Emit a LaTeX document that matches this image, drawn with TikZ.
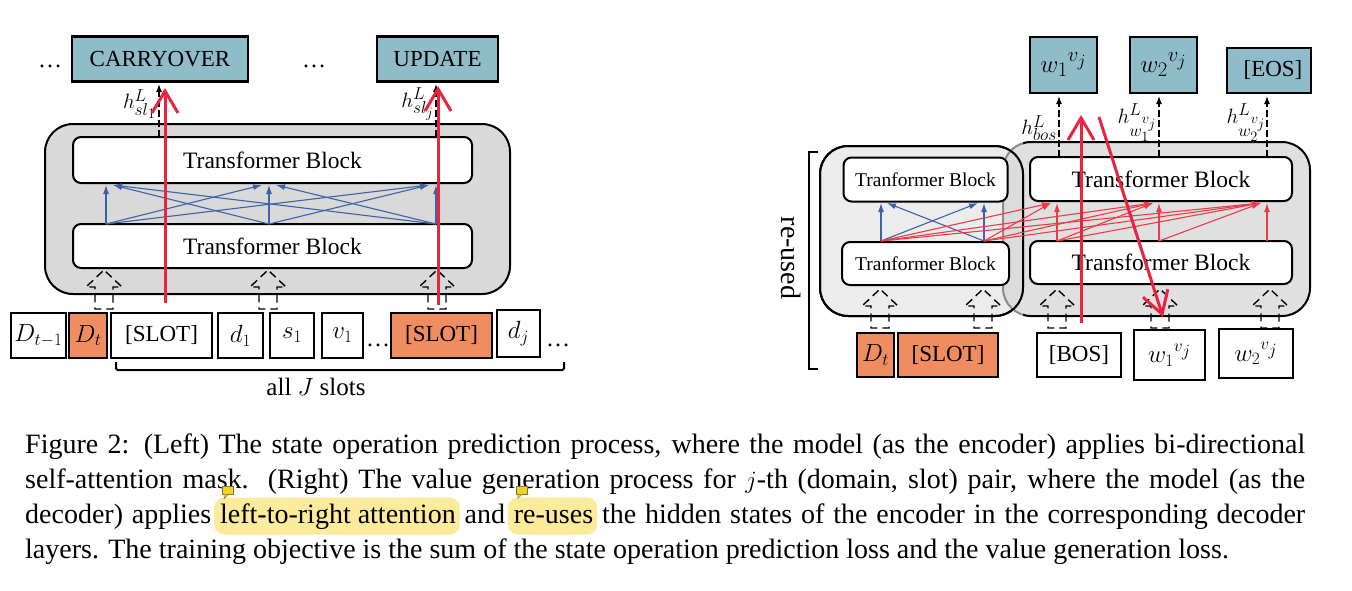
\documentclass[tikz,border=0pt]{standalone}
\usepackage{fontspec}
\setmainfont{Liberation Serif}
\usetikzlibrary{arrows.meta,calc}
\DeclareMathSizes{22}{22}{17}{14}
\DeclareMathSizes{23}{23}{17.5}{14.5}
\DeclareMathSizes{25}{25}{19}{16}
\DeclareMathSizes{26}{26}{20}{17}
\DeclareMathSizes{28}{28}{21}{17}
\definecolor{tealbox}{HTML}{8FBCC9}
\definecolor{orangebox}{HTML}{EF8D61}
\definecolor{grayA}{HTML}{D9D9D9}
\definecolor{grayB}{HTML}{ECECEC}
\definecolor{blueA}{HTML}{3F62A6}
\definecolor{redA}{HTML}{E8253F}
\definecolor{redB}{HTML}{EE3B47}
\definecolor{hlyellow}{HTML}{FDEB9C}
\definecolor{iconyellow}{HTML}{F3D21E}
\newcommand\fs[1]{\fontsize{#1}{#1}\selectfont}
\newcommand\capfont{\fontsize{28}{35}\selectfont}
\newcommand\hlword[1]{\tikz[baseline=(hw.base)]{%
  \node[inner sep=0pt,outer sep=0pt] (hw) {\strut\phantom{#1}};%
  \fill[overlay,hlyellow,rounded corners=10pt] ([xshift=-6pt,yshift=-1pt]hw.south west) rectangle ([xshift=4pt,yshift=1pt]hw.north east);%
  \filldraw[overlay,fill=iconyellow,draw=black!60!yellow,line width=0.5pt] ([xshift=2pt,yshift=4pt]hw.north west) rectangle ([xshift=13pt,yshift=12pt]hw.north west);%
  \filldraw[overlay,fill=iconyellow,draw=black!60!yellow,line width=0.5pt] ([xshift=4pt,yshift=4pt]hw.north west) -- ([xshift=4pt,yshift=0pt]hw.north west) -- ([xshift=8pt,yshift=4pt]hw.north west);%
  \node[inner sep=0pt,outer sep=0pt,anchor=base] at (hw.base) {\strut #1};}}
\tikzset{
  hollowline/.style={draw=black, line width=1.4pt, dash pattern=on 8pt off 5pt, dash phase=10.5pt},
  hollowup/.pic={\draw[hollowline] (0,0) -- (18,17) -- (9,17) -- (9,39) -- (-9,39) -- (-9,17) -- (-18,17) -- cycle;},
  box/.style={draw=black, line width=2.4pt, inner sep=0pt, outer sep=0pt, font=\fs{23}},
  outbox/.style={box, fill=tealbox},
  tok/.style={box, fill=white},
  otok/.style={box, fill=orangebox},
  tblock/.style={draw=black, line width=2pt, rounded corners=8pt, fill=white, inner sep=0pt, font=\fs{23.5}},
  stblock/.style={tblock, font=\fs{19.5}},
  lbl/.style={inner sep=0pt, font=\fs{22}, anchor=east},
  dotsl/.style={inner sep=0pt, font=\fs{24}, anchor=base},
  bluearr/.style={draw=blueA, line width=1.1pt, -{Latex[length=9pt,width=6pt]}},
  redthin/.style={draw=redB, line width=1.1pt, -{Latex[length=9pt,width=6pt]}},
  redbig/.style={draw=redA, line width=3pt, -{Straight Barb[length=22pt,width=26pt]}},
  blkarr/.style={draw=black, line width=1.3pt, dash pattern=on 7pt off 3pt, -{Latex[length=8pt,width=6pt]}},
  container/.style={line width=2pt, rounded corners=28pt},
}
\begin{document}
\begin{tikzpicture}[x=1pt,y=-1pt]
\useasboundingbox (0,0) rectangle (1352,590);
\fill[white] (0,0) rectangle (1352,590);

% ================= LEFT =================
\filldraw[container, fill=grayA, draw=black] (45,124) rectangle (510,294);
\node[tblock, minimum width=399pt, minimum height=46pt] (tbU) at (272.5,160) {Transformer Block};
\node[tblock, minimum width=399pt, minimum height=44pt] (tbL) at (272.5,246) {Transformer Block};

\node[outbox, minimum width=176pt, minimum height=45pt] (carry) at (160,59) {CARRYOVER};
\node[outbox, minimum width=121pt, minimum height=45pt] (update) at (437.5,59) {UPDATE};
\node[dotsl] (dA) at (50,67) {\ldots};
\node[dotsl] (dB) at (314,67) {\ldots};

% blue attention (bi-directional)
\foreach \x [count=\i] in {106,269,436} {
  \coordinate (bs\i) at (\x,224);
  \coordinate (bt\i) at (\x,185);
}
\foreach \i in {1,2,3} {
  \foreach \j in {1,2,3} {
    \pgfmathsetmacro{\off}{7*sign(\i-\j)}
    \draw[bluearr] (bs\i) -- ($(bt\j)+(\off,0)$);
  }
}

% tokens
\node[tok,  minimum width=55pt,  minimum height=45pt] (dtm1) at (38.5,335.5) {$D_{t-1}$};
\node[otok, minimum width=38pt,  minimum height=45pt] (dt)   at (88,335.5) {$D_t$};
\node[tok,  minimum width=101pt, minimum height=45pt] (slotA) at (161.5,335.5) {[SLOT]};
\node[tok,  minimum width=45pt,  minimum height=45pt] (d1) at (240.5,335.5) {$d_1$};
\node[tok,  minimum width=44pt,  minimum height=45pt] (s1) at (292,335.5) {$s_1$};
\node[tok,  minimum width=41pt,  minimum height=45pt] (v1) at (342.5,335.5) {$v_1$};
\node[dotsl] (dC) at (378,346) {\ldots};
\node[otok, minimum width=101pt, minimum height=45pt] (slotB) at (441.5,335.5) {[SLOT]};
\node[tok,  minimum width=43pt,  minimum height=47pt] (dj) at (518.5,333.5) {$d_j$};
\node[dotsl] (dD) at (558,346) {\ldots};

% hollow input arrows
\pic at (104,270) {hollowup};
\pic at (268,270) {hollowup};
\pic at (437,270) {hollowup};

% bracket
\draw[line width=2pt, rounded corners=2pt] (116,362) -- (116,370) -- (564,370) -- (564,362);
\node[inner sep=0pt, font=\fs{25}] (allJ) at (316,387) {all $J$ slots};

% outputs
\coordinate (oa0) at (159,137); \coordinate (oa1) at (159,84);
\coordinate (ob0) at (436,137); \coordinate (ob1) at (436,84);
\draw[blkarr] (oa0) -- (oa1);
\draw[blkarr] (ob0) -- (ob1);
\node[lbl] (hA) at (156,104) {$h^{L}_{sl_1}$};
\node[lbl] (hB) at (434,104) {$h^{L}_{sl_j}$};

\coordinate (ra0) at (165,303); \coordinate (ra1) at (165,88);
\coordinate (rb0) at (438,305); \coordinate (rb1) at (438,86);
\draw[redbig] (ra0) -- (ra1);
\draw[redbig] (rb0) -- (rb1);

% ================= RIGHT =================
\filldraw[container, fill=grayB, draw=black] (820,146) rectangle (1023,316);
\fill[container, grayA, fill opacity=0.8] (1003,142) rectangle (1310,316);
\begin{scope}
  \clip (1023,100) rectangle (1330,330);
  \draw[container, black] (1003,142) rectangle (1310,316);
\end{scope}
\begin{scope}
  \clip (990,100) rectangle (1023,330);
  \draw[container, black!45] (1003,142) rectangle (1310,316);
\end{scope}
\draw[container, black] (820,146) rectangle (1023,316);

\node[stblock, minimum width=164pt, minimum height=44pt] (stbU) at (925.5,179.5) {Tranformer Block};
\node[stblock, minimum width=167pt, minimum height=43pt] (stbL) at (925.5,263.5) {Tranformer Block};
\node[tblock, minimum width=262pt, minimum height=44pt] (btbU) at (1161,179) {Transformer Block};
\node[tblock, minimum width=262pt, minimum height=43pt] (btbL) at (1161,262.5) {Transformer Block};

% outputs
\node[outbox, minimum width=67pt, minimum height=56pt, font=\fs{26}] (w1o) at (1063.5,65) {${w_1}^{v_j}$};
\node[outbox, minimum width=67pt, minimum height=56pt, font=\fs{26}] (w2o) at (1163.5,65) {${w_2}^{v_j}$};
\node[outbox, minimum width=84pt, minimum height=45pt] (eos) at (1269,70.5) {\hspace*{8pt}[EOS]};

% blue (encoder part)
\coordinate (es1) at (881,241); \coordinate (es2) at (984,241);
\coordinate (et1) at (881,203); \coordinate (et2) at (984,203);
\draw[bluearr] (es1) -- (et1);
\draw[bluearr] (es1) -- ($(et2)+(-6,0)$);
\draw[bluearr] (es2) -- ($(et1)+(6,0)$);
\draw[bluearr] (es2) -- (et2);

% red thin (left-to-right)
\coordinate (ds1) at (1057,241); \coordinate (ds2) at (1159,241); \coordinate (ds3) at (1267,241);
\coordinate (dt1) at (1057,203); \coordinate (dt2) at (1159,203); \coordinate (dt3) at (1267,203);
\foreach \j in {1,2,3} {
  \draw[redthin] (es1) -- ($(dt\j)+(-6,0)$);
  \draw[redthin] (es2) -- ($(dt\j)+(-6,0)$);
}
\draw[redthin] (ds1) -- (dt1);
\draw[redthin] (ds1) -- ($(dt2)+(-6,0)$);
\draw[redthin] (ds1) -- ($(dt3)+(-6,0)$);
\draw[redthin] (ds2) -- (dt2);
\draw[redthin] (ds2) -- ($(dt3)+(-6,0)$);
\draw[redthin] (ds3) -- (dt3);

% tokens
\node[otok, minimum width=37pt, minimum height=44pt] (dtR) at (875.5,355) {$D_t$};
\node[otok, minimum width=100pt, minimum height=44pt] (slot3) at (948,355) {[SLOT]};
\node[tok, minimum width=84pt, minimum height=44pt] (bos) at (1079,355) {[BOS]};
\node[tok, minimum width=71pt, minimum height=50pt, font=\fs{25}] (w1i) at (1169.5,355) {${w_1}^{v_j}$};
\node[tok, minimum width=74pt, minimum height=49pt, font=\fs{25}] (w2i) at (1256,353.5) {${w_2}^{v_j}$};

% hollow inputs
\pic at (880,289) {hollowup};
\pic at (983,289) {hollowup};
\pic at (1057,289) {hollowup};
\pic at (1160,289) {hollowup};
\pic at (1270,289) {hollowup};

% output arrows
\coordinate (oc0) at (1059,157); \coordinate (oc1) at (1059,96);
\coordinate (od0) at (1159,157); \coordinate (od1) at (1159,96);
\coordinate (oe0) at (1267,157); \coordinate (oe1) at (1267,96);
\draw[blkarr] (oc0) -- (oc1);
\draw[blkarr] (od0) -- (od1);
\draw[blkarr] (oe0) -- (oe1);
\node[lbl] (hC) at (1057,128) {$h^{L}_{bos}$};
\node[lbl] (hD) at (1157,123) {$h^{L}_{w_1^{v_j}}$};
\node[lbl] (hE) at (1266,123) {$h^{L}_{w_2^{v_j}}$};

% red thick
\coordinate (rv0) at (1081,323); \coordinate (rv1) at (1081,115);
\coordinate (rd0) at (1099,117); \coordinate (rd1) at (1163,317);
\draw[redbig] (rv0) -- (rv1);
\draw[redbig] (rd0) -- (rd1);

% re-used bracket
\draw[line width=2pt] (818,152) -- (809,152) -- (809,369) -- (818,369);
\node[inner sep=0pt, font=\fs{28}, rotate=-90] (reused) at (791,258) {re-used};

% ================= CAPTION =================
\node[anchor=base west, inner sep=0pt] (cap1) at (25,453) {\capfont\makebox[1280pt][s]{Figure 2: (Left) The state operation prediction process, where the model (as the encoder) applies bi-directional}};
\node[anchor=base west, inner sep=0pt] (cap2) at (25,488) {\capfont\makebox[1280pt][s]{self-attention mask.\ \ (Right) The value generation process for $j$-th (domain, slot) pair, where the model (as the}};
\node[anchor=base west, inner sep=0pt] (cap3) at (25,523) {\capfont\makebox[1280pt][s]{decoder) applies \hlword{left-to-right attention} and \hlword{re-uses} the hidden states of the encoder in the corresponding decoder}};
\node[anchor=base west, inner sep=0pt] (cap4) at (25,558) {\capfont layers. The training objective is the sum of the state operation prediction loss and the value generation loss.};
\end{tikzpicture}
\end{document}
